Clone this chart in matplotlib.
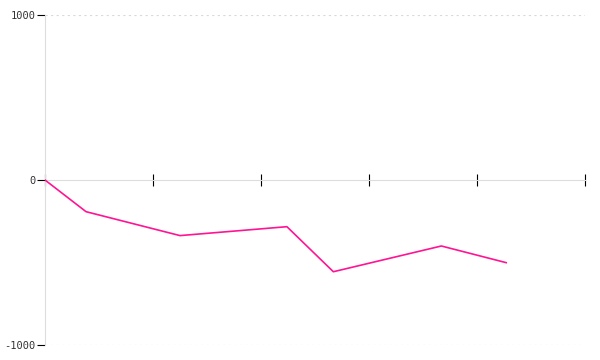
import numpy as np
import matplotlib
matplotlib.use("Agg")
import matplotlib.pyplot as plt

# series values
x_vals = [0, 0.38, 1.25, 2.24, 2.67, 3.67, 4.27]
y_vals = [0, -192, -337, -283, -556, -400, -501]
x_ticks = [0, 1, 2, 3, 4, 5]
y_ticks = [-1000, 0, 1000]

fig = plt.figure(figsize=(6, 3.6), dpi=100)
ax = fig.add_axes([0.075, 0.0417, 0.9, 0.9166])

# dotted grid lines at the outer ticks
for yv in [-1000, 1000]:
    ax.axhline(yv, color="#d9d9d9", lw=0.8, ls=(0, (2, 3)), zorder=0)

ax.plot(x_vals, y_vals, color="#ff1493", lw=1.2, zorder=3)

ax.set_xlim(0, 5)
ax.set_ylim(-1000, 1000)
ax.set_xticks(x_ticks)
ax.set_xticklabels([])
ax.set_yticks(y_ticks)
ax.set_yticklabels([str(v) for v in y_ticks], family="DejaVu Sans Mono",
                   fontsize=7.5, color="#333333")

for side in ["top", "right"]:
    ax.spines[side].set_visible(False)
ax.spines["left"].set_color("#dddddd")
ax.spines["bottom"].set_color("#dddddd")
ax.spines["bottom"].set_position(("data", 0))
ax.tick_params(axis="x", direction="inout", length=8, color="black", width=0.8)
ax.tick_params(axis="y", direction="out", length=6, color="black", width=0.8, pad=1)

fig.savefig("out.png", dpi=100)
